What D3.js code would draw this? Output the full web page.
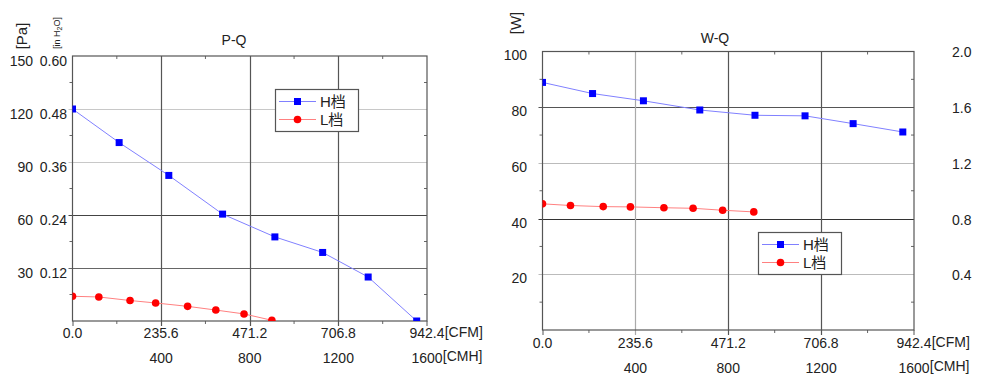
<!DOCTYPE html>
<html>
<head>
<meta charset="utf-8">
<script src="https://cdn.jsdelivr.net/npm/d3@7"></script>
<style>
  html, body { margin: 0; padding: 0; background: #fff; }
  svg { display: block; }
  text { font-family: "Liberation Sans", Arial, "Noto Sans CJK SC", sans-serif; fill: #222; }
</style>
</head>
<body>
<svg id="chart" width="1000" height="386"></svg>
<script>
// ---- data ----
const cfmTicks = [0, 235.6, 471.2, 706.8, 942.4];
const cfmMinor = [117.8, 353.4, 589.0, 824.6];
const cmhTicks = [400, 800, 1200, 1600];

// P-Q chart
const paTicks = [30, 60, 90, 120, 150];
const inH2oTicks = [0.12, 0.24, 0.36, 0.48, 0.60];
const paMinor = [15, 45, 75, 105, 135];
const pqCfmH = [0, 124, 256, 399, 538, 665, 786, 915];
const pqPaH = [120, 101, 82.4, 60.5, 47.6, 38.8, 24.9, 0];
const pqCfmL = [0, 70, 153, 221, 306, 381, 456, 530];
const pqPaL = [14, 13.6, 11.6, 10.2, 8.3, 6.2, 4.0, 0.4];

// W-Q chart
const wattTicks = [20, 40, 60, 80, 100];
const ampTicks = [0.4, 0.8, 1.2, 1.6, 2.0];
const wattMinor = [10, 30, 50, 70, 90];
const wqCfmH = [0, 127, 256, 399, 539, 666, 788, 914];
const wqWattH = [88.9, 84.9, 82.3, 79.0, 77.1, 76.9, 74.1, 71.1];
const wqCfmL = [0, 71, 154, 223, 308, 382, 457, 536];
const wqWattL = [45.3, 44.7, 44.3, 44.2, 43.9, 43.7, 43.0, 42.4];

const seriesNames = ["H档", "L档"];

const svg = d3.select("#chart");

function renderPanel(cfg) {
    const x = d3.scaleLinear().domain([0, 942.4]).range([cfg.left, cfg.right]);
    const xCmh = d3.scaleLinear().domain([0, 1600]).range([cfg.left, cfg.right]);
    const y = d3.scaleLinear().domain(cfg.yDomain).range([cfg.bottom, cfg.top]);
    const y2 = d3.scaleLinear().domain(cfg.y2Domain).range([cfg.bottom, cfg.top]);

    const g = svg.append("g");
    const clipId = cfg.id + "-clip";
    svg.append("clipPath").attr("id", clipId)
        .append("rect")
        .attr("x", cfg.left).attr("y", cfg.top)
        .attr("width", cfg.right - cfg.left).attr("height", cfg.bottom - cfg.top);

    // grid lines (major ticks stick out a little)
    g.selectAll(".hgrid")
        .data(cfg.yTicks.slice(0, -1))
        .enter().append("line")
        .attr("x1", cfg.left - 4).attr("x2", cfg.right)
        .attr("y1", d => Math.round(y(d)) + 0.5).attr("y2", d => Math.round(y(d)) + 0.5)
        .style("stroke", (d, i) => cfg.hGridColors[i])
        .style("stroke-width", 1.2);

    g.selectAll(".vgrid")
        .data(cfmTicks.slice(1, -1))
        .enter().append("line")
        .attr("x1", d => Math.round(x(d)) + 0.5).attr("x2", d => Math.round(x(d)) + 0.5)
        .attr("y1", cfg.top).attr("y2", cfg.bottom + 5)
        .style("stroke", (d, i) => cfg.vGridColors[i])
        .style("stroke-width", 1.2);

    // minor ticks on all four sides
    const minor = g.append("g").style("stroke", "#666").style("stroke-width", 1);
    cfmMinor.forEach(v => {
        minor.append("line").attr("x1", x(v)).attr("x2", x(v)).attr("y1", cfg.bottom).attr("y2", cfg.bottom + 3);
        minor.append("line").attr("x1", x(v)).attr("x2", x(v)).attr("y1", cfg.top).attr("y2", cfg.top + 3);
    });
    cfg.yMinor.forEach(v => {
        minor.append("line").attr("x1", cfg.left - 3).attr("x2", cfg.left).attr("y1", y(v)).attr("y2", y(v));
        minor.append("line").attr("x1", cfg.right - 3).attr("x2", cfg.right).attr("y1", y(v)).attr("y2", y(v));
    });
    // outer ticks at both axis ends
    g.append("line").attr("x1", cfg.left + 0.5).attr("x2", cfg.left + 0.5)
        .attr("y1", cfg.bottom).attr("y2", cfg.bottom + 5).style("stroke", "#555");
    g.append("line").attr("x1", cfg.right).attr("x2", cfg.right)
        .attr("y1", cfg.bottom).attr("y2", cfg.bottom + 5).style("stroke", "#555");

    // frame
    g.append("rect")
        .attr("x", cfg.left).attr("y", cfg.top)
        .attr("width", cfg.right - cfg.left).attr("height", cfg.bottom - cfg.top)
        .style("fill", "none").style("stroke", "#555").style("stroke-width", 1.2);

    // y labels
    g.selectAll(".ylab")
        .data(cfg.yTicks)
        .enter().append("text")
        .attr("x", cfg.yLabelX).attr("y", d => y(d) + cfg.yLabelDy)
        .attr("dy", "0.35em")
        .style("text-anchor", "end").style("font-size", "14px")
        .text(d => d);

    g.selectAll(".y2lab")
        .data(cfg.y2Ticks)
        .enter().append("text")
        .attr("x", cfg.y2LabelX).attr("y", d => y2(d) + cfg.y2LabelDy)
        .attr("dy", "0.35em")
        .style("text-anchor", cfg.y2Anchor).style("font-size", "14px")
        .text(d => d.toFixed(cfg.y2Digits));

    // x labels: CFM row and CMH row
    const xl = g.selectAll(".xlab")
        .data(cfmTicks)
        .enter().append("text")
        .attr("x", d => x(d)).attr("y", cfg.bottom + cfg.row1)
        .style("text-anchor", "middle").style("font-size", "14px")
        .text(d => d.toFixed(1));
    const lastCfm = xl.filter((d, i) => i === cfmTicks.length - 1).node().getBBox();
    g.append("text").attr("x", lastCfm.x + lastCfm.width).attr("y", cfg.bottom + cfg.row1 - 1)
        .style("font-size", "14px").text("[CFM]");

    const cl = g.selectAll(".x2lab")
        .data(cmhTicks)
        .enter().append("text")
        .attr("x", d => xCmh(d)).attr("y", cfg.bottom + cfg.row2)
        .style("text-anchor", "middle").style("font-size", "14px")
        .text(d => d);
    const lastCmh = cl.filter((d, i) => i === cmhTicks.length - 1).node().getBBox();
    g.append("text").attr("x", lastCmh.x + lastCmh.width).attr("y", cfg.bottom + cfg.row2 - 2)
        .style("font-size", "14px").text("[CMH]");

    // title
    g.append("text").attr("x", cfg.titleX).attr("y", cfg.titleY)
        .style("text-anchor", "middle").style("font-size", "14px").text(cfg.title);

    // series
    const line = d3.line().x(d => x(d[0])).y(d => y(d[1]));
    const hData = d3.zip(cfg.cfmH, cfg.valH);
    const lData = d3.zip(cfg.cfmL, cfg.valL);
    const plot = g.append("g").attr("clip-path", `url(#${clipId})`);

    plot.append("path").datum(hData).attr("d", line)
        .style("fill", "none").style("stroke", "#8080ff").style("stroke-width", 1);
    plot.append("path").datum(lData).attr("d", line)
        .style("fill", "none").style("stroke", "#ff8080").style("stroke-width", 1);

    plot.selectAll(".hpt").data(hData).enter().append("rect")
        .attr("x", d => x(d[0]) - 3.5).attr("y", d => y(d[1]) - 3.5)
        .attr("width", 7).attr("height", 7)
        .style("fill", "#0000ff");
    plot.selectAll(".lpt").data(lData).enter().append("circle")
        .attr("cx", d => x(d[0])).attr("cy", d => y(d[1])).attr("r", 3.8)
        .style("fill", "#ff0000");

    // legend
    const lg = g.append("g").attr("transform", `translate(${cfg.legend[0]},${cfg.legend[1]})`);
    lg.append("rect").attr("x", 0.5).attr("y", 0.5).attr("width", 83).attr("height", 42)
        .style("fill", "#fff").style("stroke", "#555").style("stroke-width", 1.2);
    seriesNames.forEach((name, i) => {
        const yy = 12.5 + i * 18;
        lg.append("line").attr("x1", 4).attr("x2", 41).attr("y1", yy).attr("y2", yy)
            .style("stroke", i === 0 ? "#8080ff" : "#ff8080");
        if (i === 0) {
            lg.append("rect").attr("x", 19).attr("y", yy - 3.5).attr("width", 7).attr("height", 7)
                .style("fill", "#0000ff");
        } else {
            lg.append("circle").attr("cx", 22.5).attr("cy", yy).attr("r", 3.8).style("fill", "#ff0000");
        }
        lg.append("text").attr("x", 45).attr("y", yy + 5)
            .style("font-size", "15px").text(name);
    });
}

renderPanel({
    id: "pq", left: 72.5, right: 427, top: 56, bottom: 321,
    yDomain: [0, 150], y2Domain: [0, 0.6],
    yTicks: paTicks, y2Ticks: inH2oTicks, yMinor: paMinor,
    hGridColors: ["#666", "#444", "#c8c8c8", "#c8c8c8"],
    vGridColors: ["#555", "#555", "#555"],
    yLabelX: 33, yLabelDy: 5, y2LabelX: 67, y2LabelDy: 5, y2Anchor: "end", y2Digits: 2,
    row1: 17, row2: 42,
    title: "P-Q", titleX: 234, titleY: 45,
    cfmH: pqCfmH, valH: pqPaH, cfmL: pqCfmL, valL: pqPaL,
    legend: [275, 89]
});

renderPanel({
    id: "wq", left: 542.5, right: 914, top: 51.5, bottom: 330,
    yDomain: [0, 100], y2Domain: [0, 2.0],
    yTicks: wattTicks, y2Ticks: ampTicks, yMinor: wattMinor,
    hGridColors: ["#bbb", "#333", "#bbb", "#555"],
    vGridColors: ["#aaa", "#555", "#555"],
    yLabelX: 527, yLabelDy: 4, y2LabelX: 952, y2LabelDy: 1, y2Anchor: "start", y2Digits: 1,
    row1: 18, row2: 43,
    title: "W-Q", titleX: 715, titleY: 43,
    cfmH: wqCfmH, valH: wqWattH, cfmL: wqCfmL, valL: wqWattL,
    legend: [758, 232]
});

// unit labels, rotated
svg.append("text").attr("transform", "translate(27,36) rotate(-90)")
    .style("text-anchor", "middle").style("font-size", "15px").text("[Pa]");
const inh = svg.append("text").attr("transform", "translate(60,33) rotate(-90)")
    .style("text-anchor", "middle").style("font-size", "9px");
inh.append("tspan").text("[in H");
inh.append("tspan").attr("dy", 2).style("font-size", "7px").text("2");
inh.append("tspan").attr("dy", -2).text("O]");
svg.append("text").attr("transform", "translate(521,23) rotate(-90)")
    .style("text-anchor", "middle").style("font-size", "15px").text("[W]");
</script>
</body>
</html>
